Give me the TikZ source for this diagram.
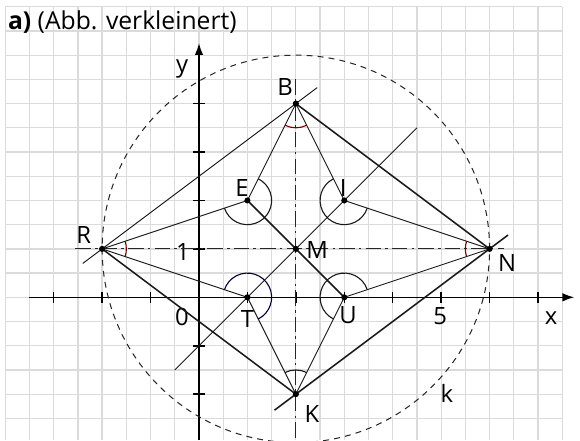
\documentclass[tikz,border=0pt]{standalone}
\usepackage{fontspec}
\setmainfont{Open Sans}
\usetikzlibrary{calc,angles,arrows.meta}

\begin{document}
\begin{tikzpicture}[>={Latex[length=7pt,width=5pt]}, font=\fontsize{14}{16}\selectfont]
  \tikzstyle{gridline}=[draw=black!14, line width=0.75pt]
  \tikzstyle{axis}=[draw=black, line width=0.9pt]
  \tikzstyle{thinln}=[draw=black!90, line width=0.55pt]
  \tikzstyle{thickln}=[draw=black!90, line width=0.9pt]
  \tikzstyle{dashdot}=[draw=black!85, line width=0.6pt,
                       dash pattern=on 9pt off 2.5pt on 1.5pt off 2.5pt]
  \tikzstyle{circk}=[draw=black!85, line width=0.6pt, dash pattern=on 3.5pt off 3pt]
  \tikzstyle{bigarc}=[draw=black!90, line width=0.65pt, angle radius=0.5cm]
  \tikzstyle{redarc}=[draw=red!45!black, line width=0.65pt, angle radius=0.5cm]

  \useasboundingbox (-4.109,-2.947) rectangle (7.867,6.139);

  % ================= Karopapier =================
  \draw[gridline, step=0.5] (-4,-2.947) grid (7.5,6);

  % ================= Achsen =================
  \coordinate (xl) at (-3.5,0);
  \coordinate (xr) at (7.75,0);
  \coordinate (yb) at (0,-2.947);
  \coordinate (yt) at (0,5.25);
  \draw[axis, ->] (xl) -- (xr);
  \draw[axis, ->] (yb) -- (yt);
  \foreach \x in {-3,-2,-1,1,2,3,4,5,6,7}
    \draw[axis] (\x,0.12) -- (\x,-0.12);
  \foreach \y in {-2,-1,1,2,3,4}
    \draw[axis] (0.12,\y) -- (-0.12,\y);
  \node (lx) at (7.27,-0.42) {x};
  \node (ly) at (-0.35,4.72) {y};
  \node (l0) at (-0.35,-0.41) {0};
  \node (l1) at (-0.33,0.93) {1};
  \node (l5) at (4.98,-0.39) {5};

  % ================= Punkte =================
  \coordinate (M) at (2,1);
  \coordinate (R) at (-2,1);
  \coordinate (N) at (6,1);
  \coordinate (B) at (2,4);
  \coordinate (K) at (2,-2);
  \coordinate (E) at (1,2);
  \coordinate (I) at (3,2);
  \coordinate (T) at (1,0);
  \coordinate (U) at (3,0);

  % Kreis k um M durch R und N
  \draw[circk] (M) circle (4);

  % Mittelsenkrechten strichpunktiert
  \coordinate (hl) at (-2.55,1);
  \coordinate (hr) at (6.3,1);
  \coordinate (vt) at (2,4.5);
  \coordinate (vb) at (2,-2.947);
  \draw[dashdot] (hl) -- (hr);
  \draw[dashdot] (vt) -- (vb);

  % ================= Raute RBNK =================
  \draw[thinln] ($(R)!-0.1!(B)$) -- ($(B)!-0.11!(R)$);
  \draw[thickln] (B) -- (N);
  \draw[thickln] ($(K)!-0.11!(N)$) -- ($(N)!-0.095!(K)$);
  \draw[thickln] (K) -- (R);

  % Diagonalen durch M
  \draw[thickln] (E) -- (U);
  \draw[thinln] ($(T)!-0.75!(I)$) -- ($(I)!-0.75!(T)$);

  % Verbindungen zu E, I, T, U
  \draw[thinln] (B) -- (E);
  \draw[thinln] (B) -- (I);
  \draw[thinln] (R) -- (E);
  \draw[thinln] (R) -- (T);
  \draw[thinln] (N) -- (I);
  \draw[thinln] (N) -- (U);
  \draw[thinln] (K) -- (T);
  \draw[thinln] (K) -- (U);

  % ================= Winkelboegen =================
  \pic[redarc] {angle = E--B--I};
  \pic[redarc] {angle = T--R--E};
  \pic[redarc] {angle = I--N--U};
  \pic[bigarc] {angle = U--K--T};
  \pic[bigarc] {angle = R--E--B};
  \pic[bigarc] {angle = B--I--N};
  \pic[bigarc, draw=blue!20!black] {angle = K--T--R};
  \pic[bigarc] {angle = N--U--K};

  \foreach \p in {M,R,N,B,K,E,I,T,U}
    \fill[black] (\p) circle (1.8pt);

  % ================= Beschriftung =================
  \node (lB) at (1.78,4.34) {B};
  \node (lE) at (0.89,2.25) {E};
  \node (lI) at (2.98,2.25) {I};
  \node (lM) at (2.44,0.97) {M};
  \node (lT) at (1.0,-0.44) {T};
  \node (lU) at (3.08,-0.37) {U};
  \node (lR) at (-2.38,1.28) {R};
  \node (lN) at (6.36,0.7) {N};
  \node (lK) at (2.33,-2.4) {K};
  \node (lk) at (5.12,-1.98) {k};

  \node[anchor=base west, inner sep=0pt, font=\fontsize{14.5}{16}\selectfont] (titel)
    at (-3.95,5.52) {\textbf{a)} (Abb. verkleinert)};
\end{tikzpicture}
\end{document}
